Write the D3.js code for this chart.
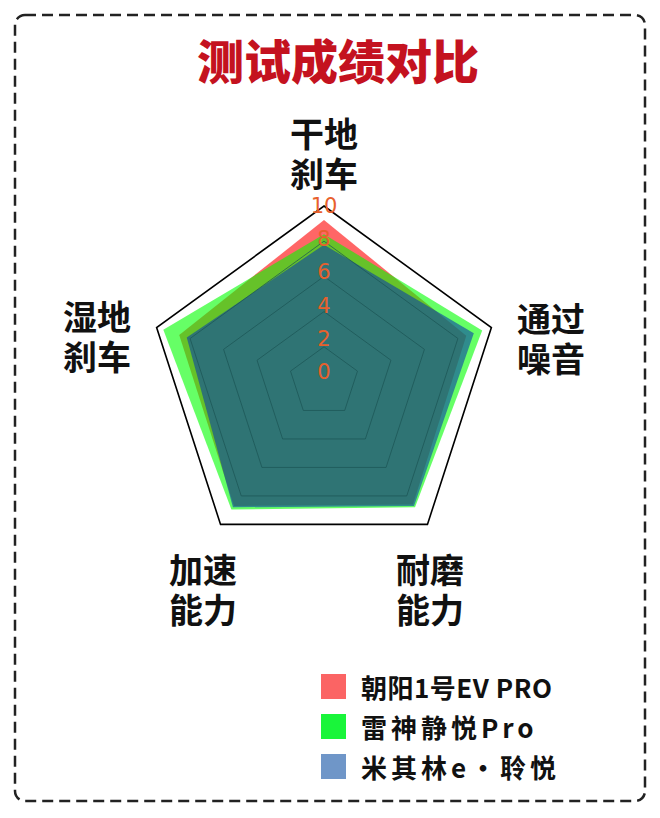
<!DOCTYPE html>
<html>
<head>
<meta charset="utf-8">
<script src="https://cdn.jsdelivr.net/npm/d3@7.9.0/dist/d3.min.js"></script>
<style>
  body { margin: 0; background: #fff; }
  svg { display: block; }
</style>
</head>
<body>
<svg id="chart" width="660" height="818"></svg>
<script>
// axes clockwise from the top
const axes = ['干地刹车', '通过噪音', '耐磨能力', '加速能力', '湿地刹车'];
const seriesNames = ['朝阳1号EV PRO', '雷神静悦Pro', '米其林e·聆悦'];
const chaoyang = [9.2, 8.5, 8.6, 8.7, 8.65];
const leishen = [8.4, 9.45, 8.8, 8.95, 9.6];
const michelin = [7.8, 8.95, 8.7, 8.8, 8.2];
const ticks = [0, 2, 4, 6, 8, 10];

const fills = ['#ff0000', '#00ff00', '#0a40a6'];
const swatches = ['#fb6464', '#19f53a', '#6f96c8'];

const svg = d3.select('#chart');
const cx = 324, cy = 382;
const r = d3.scaleLinear().domain([0, 10]).range([0, 176]);
const rLabel = d3.scaleLinear().domain([0, 10]).range([10, 176]);
const step = 2 * Math.PI / axes.length;

const radial = d3.lineRadial()
  .angle((d, i) => i * step)
  .radius(d => r(d))
  .curve(d3.curveLinearClosed);

// dashed card border
svg.append('rect')
  .attr('x', 15).attr('y', 15)
  .attr('width', 630).attr('height', 786)
  .attr('rx', 10)
  .attr('fill', 'none')
  .attr('stroke', '#222')
  .attr('stroke-width', 2.5)
  .attr('stroke-dasharray', '11 6');

svg.append('text')
  .attr('x', 338).attr('y', 58)
  .attr('text-anchor', 'middle')
  .attr('dominant-baseline', 'central')
  .attr('font-family', '"Noto Sans CJK SC", sans-serif')
  .attr('font-weight', 900)
  .attr('font-size', 47)
  .attr('fill', '#c4121f')
  .text('测试成绩对比');

const plot = svg.append('g').attr('transform', `translate(${cx},${cy})`);

// outer frame at 10
plot.append('path')
  .attr('d', radial(axes.map(() => 10)))
  .attr('fill', 'none')
  .attr('stroke', '#000')
  .attr('stroke-width', 1.6);

[chaoyang, leishen, michelin].forEach((vals, i) => {
  plot.append('path')
    .attr('d', radial(vals))
    .attr('fill', fills[i])
    .attr('fill-opacity', 0.6)
    .attr('stroke', 'none');
});

// inner rings
plot.selectAll('path.ring')
  .data(ticks.filter(t => t > 0 && t < 10))
  .enter()
  .append('path')
  .attr('class', 'ring')
  .attr('d', t => radial(axes.map(() => t)))
  .attr('fill', 'none')
  .attr('stroke', '#1c5656')
  .attr('stroke-opacity', 0.75)
  .attr('stroke-width', 1);

plot.selectAll('text.tick')
  .data(ticks)
  .enter()
  .append('text')
  .attr('class', 'tick')
  .attr('x', 0)
  .attr('y', t => -rLabel(t))
  .attr('text-anchor', 'middle')
  .attr('dominant-baseline', 'central')
  .attr('font-family', '"DejaVu Sans", sans-serif')
  .attr('font-size', 21)
  .attr('fill', '#e8602c')
  .text(t => t);

// axis labels, two lines each
const labelAt = [[324, 152], [551, 337], [430, 588], [203, 588], [97, 335]];
axes.forEach((name, i) => {
  [name.slice(0, 2), name.slice(2)].forEach((part, j) => {
    svg.append('text')
      .attr('x', labelAt[i][0])
      .attr('y', labelAt[i][1] + (j === 0 ? -20 : 20))
      .attr('text-anchor', 'middle')
      .attr('dominant-baseline', 'central')
      .attr('font-family', '"Noto Sans CJK SC", sans-serif')
      .attr('font-weight', 700)
      .attr('font-size', 34)
      .attr('fill', '#111')
      .text(part);
  });
});

// legend
const legend = svg.append('g').attr('transform', 'translate(321,674)');
seriesNames.forEach((name, i) => {
  const row = legend.append('g').attr('transform', `translate(0,${i * 40})`);
  row.append('rect')
    .attr('width', 25).attr('height', 25)
    .attr('fill', swatches[i]);
  row.append('text')
    .attr('x', 40).attr('y', 12.5)
    .attr('dominant-baseline', 'central')
    .attr('font-family', '"Noto Sans CJK SC", sans-serif')
    .attr('font-weight', 700)
    .attr('font-size', 26)
    .attr('letter-spacing', i === 0 ? 0.5 : 4)
    .attr('fill', '#111')
    .text(name);
});
</script>
</body>
</html>
